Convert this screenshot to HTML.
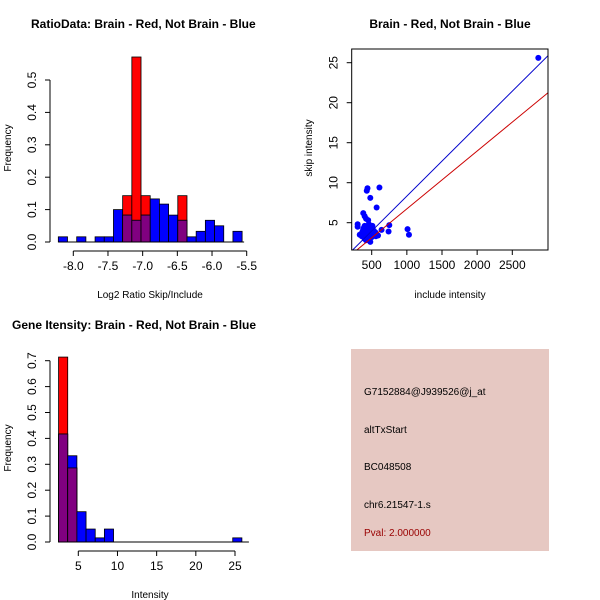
<!DOCTYPE html>
<html><head><meta charset="utf-8"><style>
body{margin:0;background:#fff;}
svg{display:block;font-family:"Liberation Sans",sans-serif;}
</style></head><body>
<svg id="c" width="600" height="600" viewBox="0 0 600 600"></svg>
<script>
// ---- Panel 1: ratio histogram ----
const ratioStart = -8.216, ratioWidth = 0.1325;
const ratioBlue = [0.016,0,0.016,0,0.016,0.016,0.1,0.083,0.067,0.083,0.133,0.117,0.083,0.067,0.016,0.033,0.067,0.05,0,0.033];
const ratioRed  = [0,0,0,0,0,0,0,0.143,0.571,0.143,0,0,0,0.143,0,0,0,0,0,0];
const ratioXTicks = [-8.0,-7.5,-7.0,-6.5,-6.0,-5.5];
const ratioYTicks = [0.0,0.1,0.2,0.3,0.4,0.5];
// ---- Panel 2: intensity histogram ----
const intStart = 2.48, intWidth = 1.17;
const intBlue = [0.417,0.333,0.117,0.05,0.016,0.05,0,0,0,0,0,0,0,0,0,0,0,0,0,0.016];
const intRed  = [0.714,0.286,0,0,0,0,0,0,0,0,0,0,0,0,0,0,0,0,0,0];
const intXTicks = [5,10,15,20,25];
const intYTicks = [0.0,0.1,0.2,0.3,0.4,0.5,0.6,0.7];
// ---- Panel 3: scatter ----
const scatX = [2870,300,300,380,430,440,610,480,570,1010,1030,740,750,640,400,420,450,350,360,400,420,480,500,520,550,450,470,500,380,420,440,460,510,530,400,370,330,560,590,480,430,460,410,490,450,390];
const scatY = [25.6,4.8,4.5,6.2,9.0,9.3,9.4,8.1,6.9,4.2,3.5,3.9,4.7,4.1,5.8,5.5,5.3,3.6,3.3,3.0,2.8,2.6,3.2,3.5,3.8,4.5,4.0,4.3,4.2,3.8,3.5,4.8,4.6,4.0,4.6,3.9,3.5,3.3,3.4,3.7,4.2,3.0,3.3,4.1,3.6,4.4];
const lineIntercepts = [-0.41, -0.50];
const lineSlopes = [0.00874, 0.00723];
const lineColors = ['#0000cc','#cc0000'];
const scatXTicks = [500,1000,1500,2000,2500];
const scatYTicks = [5,10,15,20,25];
const infoLines = ['G7152884@J939526@j_at','altTxStart','BC048508','chr6.21547-1.s'];
const pvalText = 'Pval: 2.000000';

const svg = document.getElementById('c');
const NS = 'http://www.w3.org/2000/svg';
function mk(tag, attrs, parent){const e=document.createElementNS(NS,tag);for(const k in attrs)e.setAttribute(k,attrs[k]);(parent||svg).appendChild(e);return e;}
function txt(x,y,s,attrs,parent){const e=mk('text',Object.assign({x:x,y:y},attrs||{}),parent);e.textContent=s;return e;}
function lin(d0,d1,r0,r1){return v=>r0+(v-d0)*(r1-r0)/(d1-d0);}

function drawHist(name, start, width, blue, red, xs, ys, g){
  for(let i=0;i<blue.length;i++){
    const x0=xs(start+i*width), x1=xs(start+(i+1)*width);
    const b=blue[i], r=red[i];
    if(r>0){const e=mk('rect',{x:x0,y:ys(r),width:x1-x0,height:ys(0)-ys(r),fill:'#ff0000',stroke:'#000','stroke-width':0.8},g);
       }
    if(b>0){const e=mk('rect',{x:x0,y:ys(b),width:x1-x0,height:ys(0)-ys(b),fill:'#0000ff',stroke:'#000','stroke-width':0.8},g);
       }
    if(r>0&&b>0){const m=Math.min(r,b);const e=mk('rect',{x:x0,y:ys(m),width:x1-x0,height:ys(0)-ys(m),fill:'#800080',stroke:'#000','stroke-width':0.8},g);
       }
  }
}
function axisX(ticks, xs, y, g, fmt, name){
  mk('line',{x1:xs(ticks[0]),x2:xs(ticks[ticks.length-1]),y1:y,y2:y,stroke:'#000'},g);
  ticks.forEach(t=>{mk('line',{x1:xs(t),x2:xs(t),y1:y,y2:y+5,stroke:'#000'},g);
    const e=txt(xs(t),y+19,fmt(t),{'font-size':12,'text-anchor':'middle'},g);
     });
}
function axisY(ticks, ys, x, g, fmt, name){
  mk('line',{x1:x,x2:x,y1:ys(ticks[0]),y2:ys(ticks[ticks.length-1]),stroke:'#000'},g);
  ticks.forEach(t=>{mk('line',{x1:x-5,x2:x,y1:ys(t),y2:ys(t),stroke:'#000'},g);
    const tx=x-14;
    const e=txt(tx,ys(t),fmt(t),{'font-size':12,'text-anchor':'middle',transform:`rotate(-90 ${tx} ${ys(t)})`},g);
     });
}
function label(x,y,s,name,rot,g,size){const e=txt(x,y,s,{'font-size':size||10,'text-anchor':'middle',transform:rot?`rotate(-90 ${x} ${y})`:''},g);
   return e;}

// Panel 1
{
  const g=mk('g',{});  
  const xs=lin(-8.0,-5.5,73.3,246.7), ys=lin(0,0.5,242,80);
  const t=txt(31,28,'RatioData: Brain - Red, Not Brain - Blue',{'font-size':12,'font-weight':'bold'},g);
   
  drawHist('ratio',ratioStart,ratioWidth,ratioBlue,ratioRed,xs,ys,g);
  mk('line',{x1:xs(ratioStart),x2:xs(ratioStart+ratioBlue.length*ratioWidth)+2,y1:ys(0),y2:ys(0),stroke:'#000'},g);
  axisX(ratioXTicks,xs,251,g,v=>v.toFixed(1),'ratio');
  axisY(ratioYTicks,ys,50,g,v=>v.toFixed(1),'ratio');
  label(150,298,'Log2 Ratio Skip/Include','ratio-x-title',false,g);
  label(11,148,'Frequency','ratio-y-title',true,g);
}
// Panel 2
{
  const g=mk('g',{});  
  const xs=lin(5,25,78.3,235), ys=lin(0,0.7,542,360.7);
  const t=txt(12,329,'Gene Itensity: Brain - Red, Not Brain - Blue',{'font-size':12,'font-weight':'bold'},g);
   
  drawHist('intensity',intStart,intWidth,intBlue,intRed,xs,ys,g);
  mk('line',{x1:xs(intStart),x2:xs(intStart+intBlue.length*intWidth)+7,y1:ys(0),y2:ys(0),stroke:'#000'},g);
  axisX(intXTicks,xs,551,g,v=>String(v),'intensity');
  axisY(intYTicks,ys,50,g,v=>v.toFixed(1),'intensity');
  label(150,598,'Intensity','intensity-x-title',false,g);
  label(11,448,'Frequency','intensity-y-title',true,g);
}
// Panel 3
{
  const g=mk('g',{});  
  const xs=lin(500,2500,371.7,512.3), ys=lin(5,25,222.7,62.7);
  const L=351.7,R=548,T=49,B=250;
  const t=txt(450,28,'Brain - Red, Not Brain - Blue',{'font-size':12,'font-weight':'bold','text-anchor':'middle'},g);
   
  mk('clipPath',{id:'clp'},g); mk('rect',{x:L,y:T,width:R-L,height:B-T},g.lastChild);
  const cg=mk('g',{'clip-path':'url(#clp)'},g);
  for(let i=0;i<scatX.length;i++){const c=mk('circle',{cx:xs(scatX[i]),cy:ys(scatY[i]),r:3,fill:'#0000ff'},cg);
     }
  for(let k=0;k<lineSlopes.length;k++){const x0=200,x1=3100;
    const l=mk('line',{x1:xs(x0),y1:ys(lineIntercepts[k]+lineSlopes[k]*x0),x2:xs(x1),y2:ys(lineIntercepts[k]+lineSlopes[k]*x1),stroke:lineColors[k],'stroke-width':1},cg);
     }
  mk('rect',{x:L,y:T,width:R-L,height:B-T,fill:'none',stroke:'#000'},g);
  scatXTicks.forEach(v=>{mk('line',{x1:xs(v),x2:xs(v),y1:B,y2:B+5,stroke:'#000'},g);
    const e=txt(xs(v),B+19,String(v),{'font-size':12,'text-anchor':'middle'},g);
     });
  scatYTicks.forEach(v=>{mk('line',{x1:L-5,x2:L,y1:ys(v),y2:ys(v),stroke:'#000'},g);
    const x=L-14;const e=txt(x,ys(v),String(v),{'font-size':12,'text-anchor':'middle',transform:`rotate(-90 ${x} ${ys(v)})`},g);
     });
  label(450,298,'include intensity','scatter-x-title',false,g);
  label(312,148,'skip intensity','scatter-y-title',true,g);
}
// Panel 4
{
  const g=mk('g',{});  
  mk('rect',{x:351,y:349,width:198,height:202,fill:'#e6c8c2'},g);
  const ys=[395,433,470,508];
  infoLines.forEach((s,i)=>{const e=txt(364,ys[i],s,{'font-size':10},g);
     });
  const p=txt(364,536,pvalText,{'font-size':10,fill:'#990000'},g);
   
}
</script>
</body></html>
